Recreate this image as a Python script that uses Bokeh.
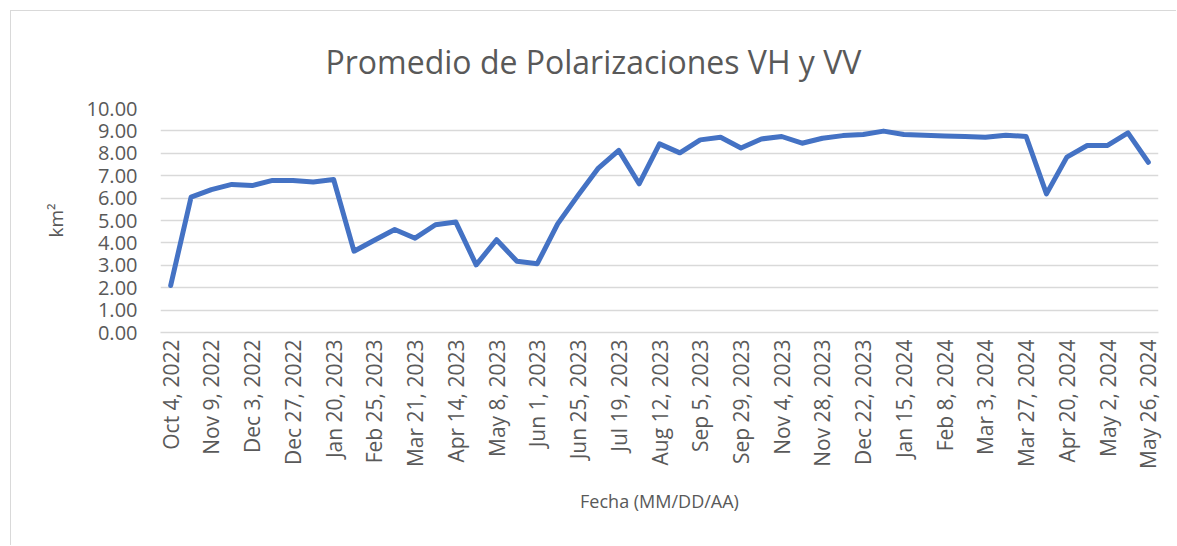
from bokeh.plotting import figure
from bokeh.models import FixedTicker, PrintfTickFormatter, ColumnDataSource, Range1d
from bokeh.embed import file_html
from bokeh.resources import INLINE
import math

# ---- data ----
dates = [
    "Oct 4, 2022", "Oct 28, 2022", "Nov 9, 2022", "Nov 21, 2022", "Dec 3, 2022", "Dec 15, 2022",
    "Dec 27, 2022", "Jan 8, 2023", "Jan 20, 2023", "Feb 13, 2023", "Feb 25, 2023", "Mar 9, 2023",
    "Mar 21, 2023", "Apr 2, 2023", "Apr 14, 2023", "Apr 26, 2023", "May 8, 2023", "May 20, 2023",
    "Jun 1, 2023", "Jun 13, 2023", "Jun 25, 2023", "Jul 7, 2023", "Jul 19, 2023", "Jul 31, 2023",
    "Aug 12, 2023", "Aug 24, 2023", "Sep 5, 2023", "Sep 17, 2023", "Sep 29, 2023", "Oct 23, 2023",
    "Nov 4, 2023", "Nov 16, 2023", "Nov 28, 2023", "Dec 10, 2023", "Dec 22, 2023", "Jan 3, 2024",
    "Jan 15, 2024", "Jan 27, 2024", "Feb 8, 2024", "Feb 20, 2024", "Mar 3, 2024", "Mar 15, 2024",
    "Mar 27, 2024", "Apr 8, 2024", "Apr 20, 2024", "Apr 26, 2024", "May 2, 2024", "May 14, 2024",
    "May 26, 2024",
]
values = [
    2.10, 6.04, 6.38, 6.61, 6.56, 6.79, 6.79, 6.72, 6.83, 3.63,
    4.12, 4.60, 4.21, 4.81, 4.93, 3.02, 4.14, 3.18, 3.07, 4.85,
    6.12, 7.34, 8.13, 6.64, 8.42, 8.02, 8.60, 8.72, 8.24, 8.64,
    8.75, 8.45, 8.67, 8.79, 8.84, 8.99, 8.84, 8.81, 8.77, 8.75,
    8.72, 8.81, 8.75, 6.19, 7.83, 8.35, 8.35, 8.91, 7.60,
]
y_ticks = [0, 1, 2, 3, 4, 5, 6, 7, 8, 9, 10]
title_text = "Promedio de Polarizaciones VH y VV"
x_title = "Fecha (MM/DD/AA)"
y_title = "km²"

idx = list(range(len(dates)))
src = ColumnDataSource(dict(x=idx, y=values, d=dates))

TXT = "#595959"
GRID = "#d9d9d9"
FONT = "Open Sans"

p = figure(
    width=1166, height=535,
    output_backend="svg", toolbar_location=None,
    x_range=Range1d(-0.5, len(dates) - 0.5), y_range=Range1d(0, 10),
    min_border_left=149, min_border_right=19, min_border_top=97, min_border_bottom=214,
    title=title_text,
    styles={"margin-left": "10px", "margin-top": "10px",
            "border-top": "1px solid #d9d9d9", "border-left": "1px solid #d9d9d9"},
)
p.outline_line_color = None
p.background_fill_color = "white"
p.border_fill_color = "white"

p.title.align = "left"
p.title.offset = 165
p.title.text_font = FONT
p.title.text_font_size = "32px"
p.title.text_font_style = "normal"
p.title.text_color = TXT
p.title.standoff = 52

p.line("x", "y", source=src, line_color="#4472C4", line_width=5,
       line_join="round", line_cap="round")

# y axis
p.yaxis.ticker = FixedTicker(ticks=y_ticks)
p.yaxis.formatter = PrintfTickFormatter(format="%.2f")
p.yaxis.axis_line_color = None
p.yaxis.major_tick_line_color = None
p.yaxis.minor_tick_line_color = None
p.yaxis.major_tick_out = 0
p.yaxis.major_tick_in = 0
p.yaxis.major_label_standoff = 23
p.yaxis.major_label_text_font = FONT
p.yaxis.major_label_text_font_size = "20px"
p.yaxis.major_label_text_color = TXT
p.yaxis.axis_label = y_title
p.yaxis.axis_label_text_font = FONT
p.yaxis.axis_label_text_font_size = "19px"
p.yaxis.axis_label_text_font_style = "normal"
p.yaxis.axis_label_text_color = TXT
p.yaxis.axis_label_standoff = 15

# x axis
p.xaxis.ticker = FixedTicker(ticks=idx[::2])
p.xaxis.major_label_overrides = {i: dates[i] for i in idx[::2]}
p.xaxis.major_label_orientation = math.pi / 2
p.xaxis.axis_line_color = GRID
p.xaxis.axis_line_width = 1.5
p.xaxis.major_tick_line_color = None
p.xaxis.minor_tick_line_color = None
p.xaxis.major_tick_out = 0
p.xaxis.major_tick_in = 0
p.xaxis.major_label_standoff = 7
p.xaxis.major_label_text_font = FONT
p.xaxis.major_label_text_font_size = "21px"
p.xaxis.major_label_text_color = TXT
p.xaxis.axis_label = x_title
p.xaxis.axis_label_text_font = FONT
p.xaxis.axis_label_text_font_size = "18px"
p.xaxis.axis_label_text_font_style = "normal"
p.xaxis.axis_label_text_color = TXT
p.xaxis.axis_label_standoff = 17

p.xgrid.grid_line_color = None
p.ygrid.grid_line_color = GRID
p.ygrid.grid_line_width = 1.5

open("out.html", "w").write(file_html(p, INLINE))
